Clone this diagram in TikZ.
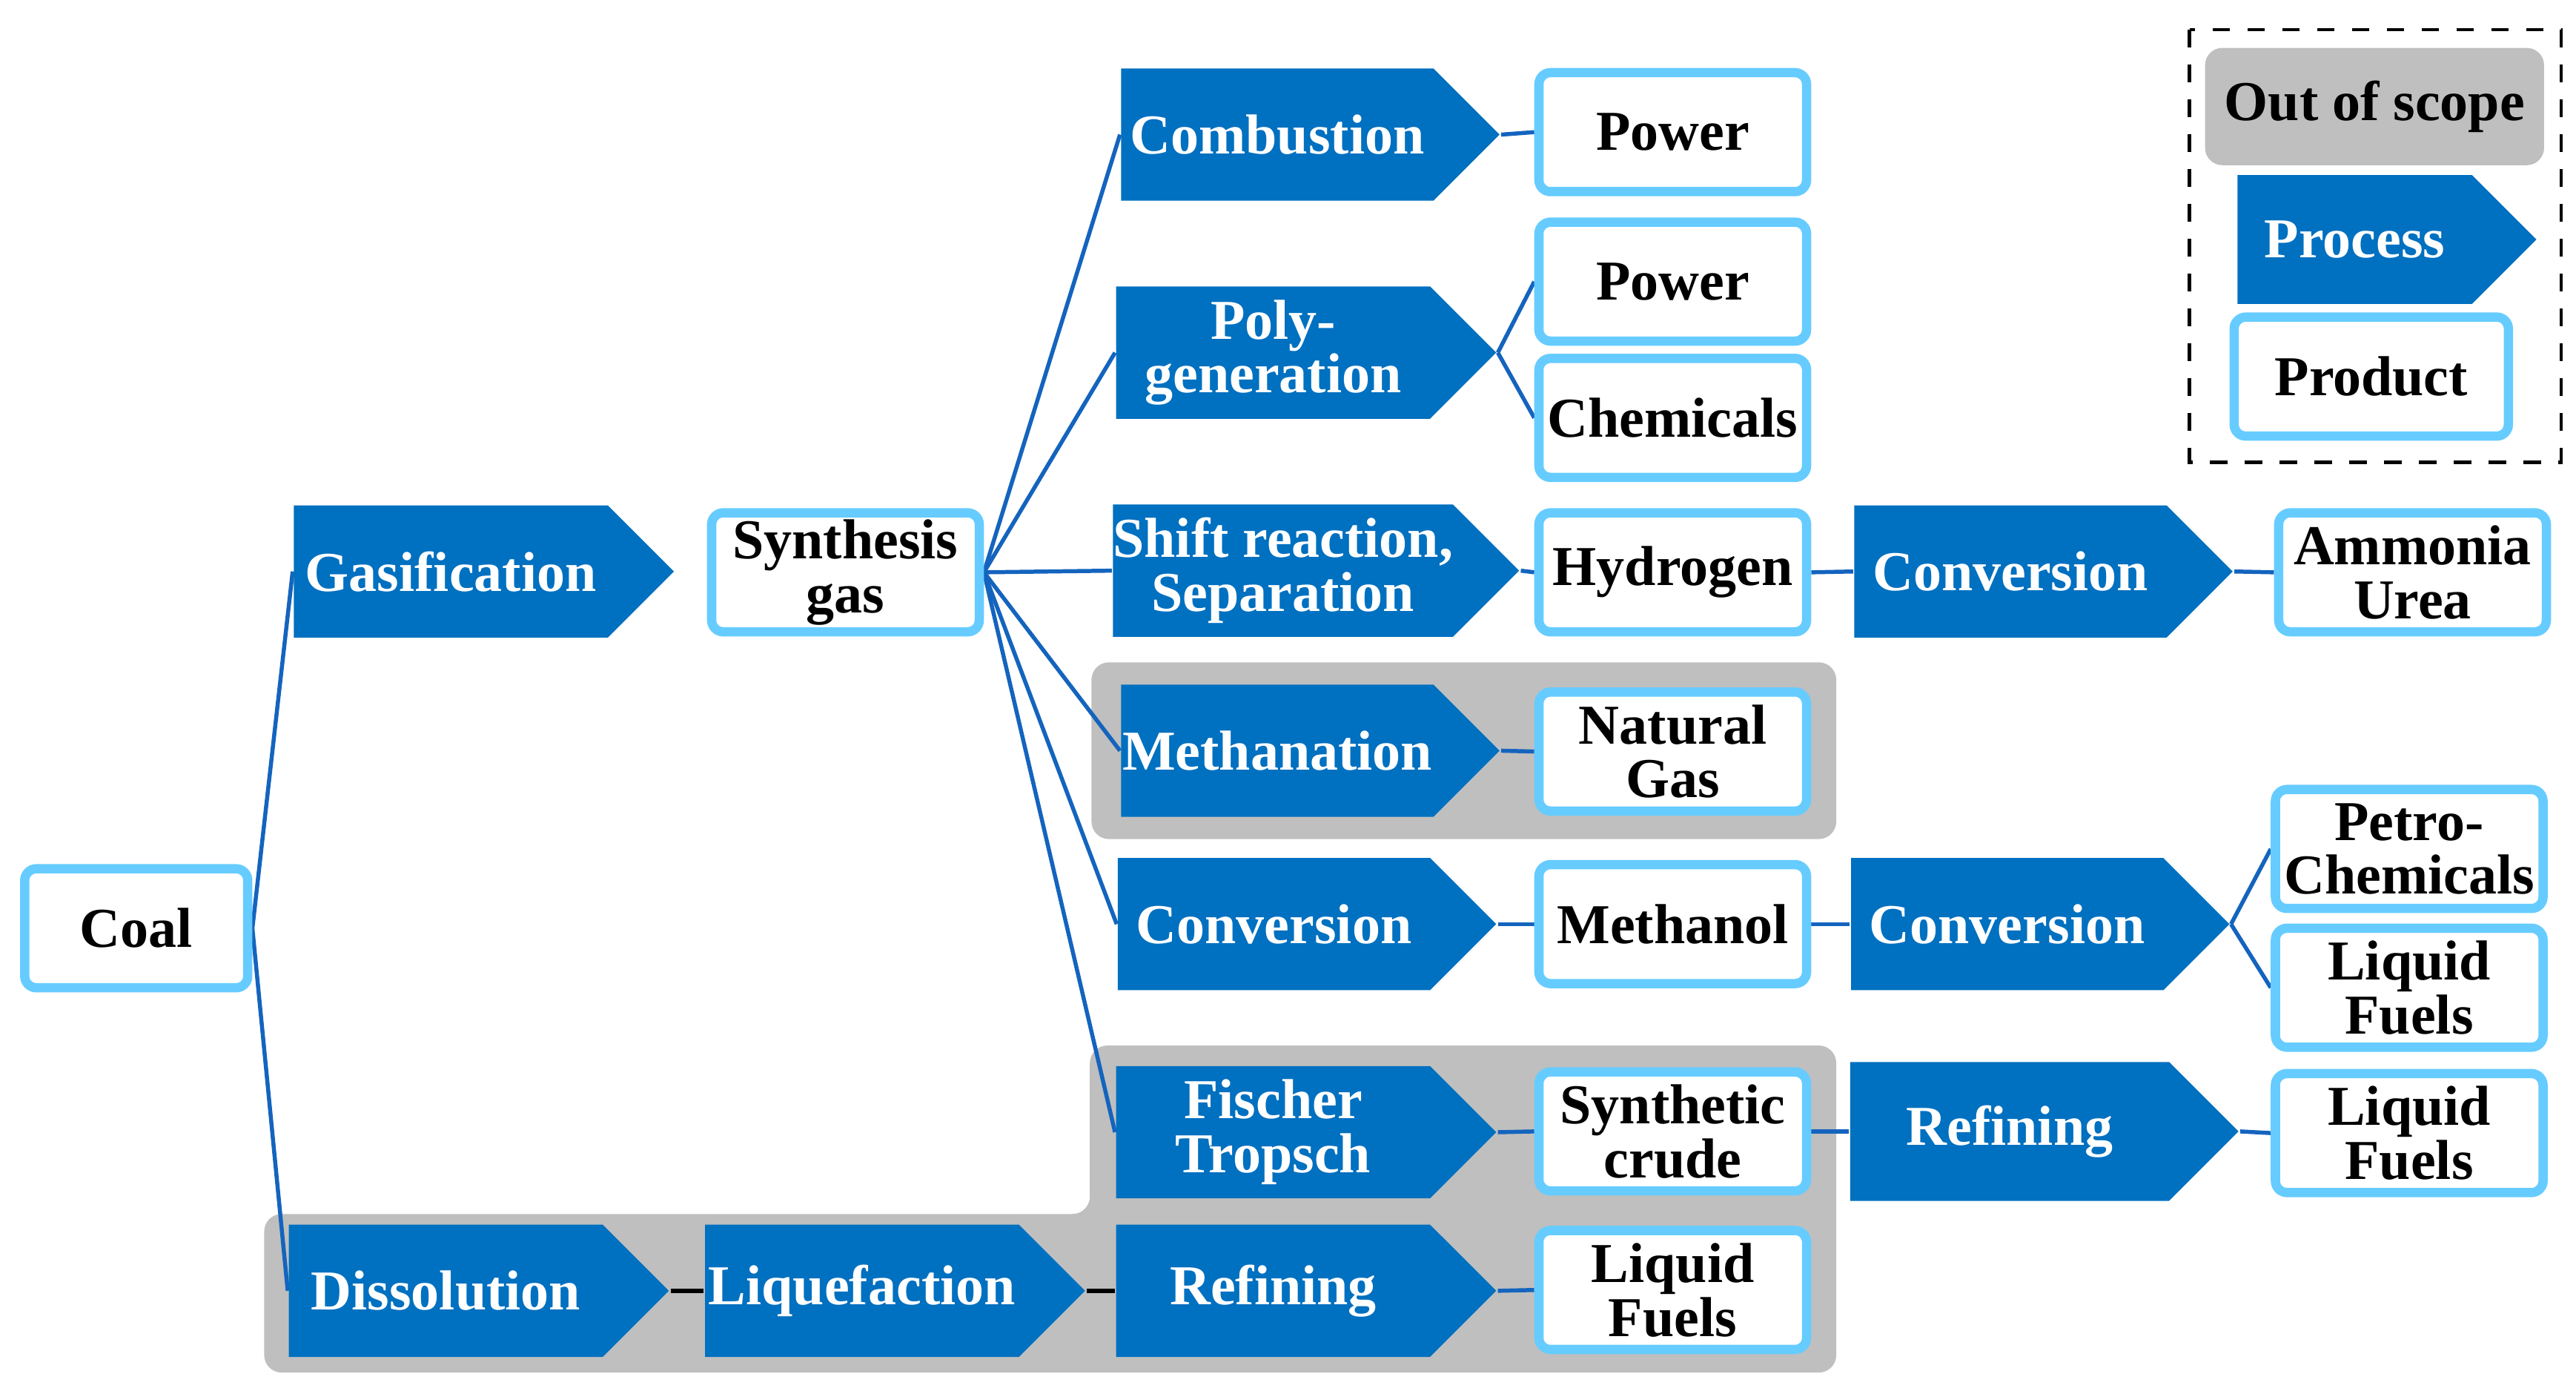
\documentclass[tikz,border=0pt]{standalone}
\usepackage{fontspec}
\setmainfont{Liberation Serif}
\usetikzlibrary{shapes.symbols}
\definecolor{procblue}{RGB}{0,112,192}
\definecolor{prodblue}{RGB}{102,204,255}
\definecolor{scopegray}{RGB}{191,191,191}
\definecolor{linkblue}{RGB}{20,100,190}
\pgfdeclarelayer{scopelayer}
\pgfdeclarelayer{linklayer}
\pgfsetlayers{scopelayer,linklayer,main}
\begin{document}
\begin{tikzpicture}[x=0.01cm, y=-0.01cm,
  txt/.style={font=\fontsize{9.7}{9.3}\selectfont\bfseries, align=center},
  process/.style={signal, signal to=east, signal pointer angle=90, fill=procblue,
    text=white, txt, minimum height=0.8cm, minimum width=2.3cm, inner sep=0pt},
  product/.style={draw=prodblue, line width=1.6pt, fill=white, rounded corners=2pt,
    txt, minimum height=0.72cm, minimum width=1.62cm, inner sep=0pt},
  link/.style={draw=linkblue, line width=0.7pt},
  plain/.style={draw=black, line width=0.7pt}]
\useasboundingbox (0,0) rectangle (1560,842);
% out of scope areas
\begin{pgfonlayer}{scopelayer}
\fill[scopegray, rounded corners=3pt] (661,401) rectangle (1112,508);
\fill[scopegray, rounded corners=3pt] (160,735) -- (660,735) -- (660,633) -- (1112,633)
  -- (1112,831) -- (160,831) -- cycle;
\end{pgfonlayer}
% legend
\draw[dashed, line width=0.6pt] (1326,18) rectangle (1551,280);
\node[fill=scopegray, rounded corners=3pt, minimum width=1.98cm, minimum height=0.71cm, txt]
  (lscope) at (1438,64.5) {Out of scope};
\node[process, minimum width=1.81cm, minimum height=0.78cm] (lproc) at (1426,145) {Process};
\node[product, minimum width=1.66cm] (lprod) at (1436,228) {Product};
% processes
\node[process] (gas) at (273,346) {Gasification};
\node[process, minimum width=2.29cm] (comb) at (773.5,81.5) {Combustion};
\node[process] (poly) at (771,213.5) {Poly-\\generation};
\node[process, minimum width=2.42cm] (shift) at (777,345.5) {Shift reaction,\\Separation};
\node[process, minimum width=2.29cm] (meth) at (773.5,454.5) {Methanation};
\node[process, minimum width=2.29cm] (conv1) at (771.5,559.5) {Conversion};
\node[process] (ft) at (771,685.5) {Fischer\\Tropsch};
\node[process] (diss) at (270,781.5) {Dissolution};
\node[process] (liq) at (522,781.5) {Liquefaction};
\node[process] (ref1) at (771,781.5) {Refining};
\node[process, minimum width=2.29cm] (conv2) at (1217.5,346) {Conversion};
\node[process, minimum width=2.29cm] (conv3) at (1215.5,559.5) {Conversion};
\node[process, minimum width=2.35cm, minimum height=0.84cm] (ref2) at (1217,685) {Refining};
% products
\node[product, minimum width=1.35cm] (coal) at (82.5,562) {Coal};
\node[product] (syn) at (512,346.5) {Synthesis\\gas};
\node[product] (pow1) at (1013,80) {Power};
\node[product] (pow2) at (1013,170.5) {Power};
\node[product] (chem) at (1013,253) {Chemicals};
\node[product] (hyd) at (1013,346.5) {Hydrogen};
\node[product] (ng) at (1013,455) {Natural\\Gas};
\node[product] (meoh) at (1013,559.5) {Methanol};
\node[product] (sc) at (1013,685) {Synthetic\\crude};
\node[product] (lf1) at (1013,781) {Liquid\\Fuels};
\node[product] (amm) at (1461,346.5) {Ammonia\\Urea};
\node[product] (petro) at (1459,514) {Petro-\\Chemicals};
\node[product] (lf2) at (1459,598) {Liquid\\Fuels};
\node[product] (lf3) at (1459,686) {Liquid\\Fuels};
% connectors
\begin{pgfonlayer}{linklayer}
\draw[link] (coal.east) -- (gas.west);
\draw[link] (coal.east) -- (diss.west);
\foreach \t in {comb,poly,shift,meth,conv1,ft}
  \draw[link] (syn.east) -- (\t.west);
\draw[link] (comb.east) -- (pow1.west);
\draw[link] (poly.east) -- (pow2.west);
\draw[link] (poly.east) -- (chem.west);
\draw[link] (shift.east) -- (hyd.west);
\draw[link] (meth.east) -- (ng.west);
\draw[link] (conv1.east) -- (meoh.west);
\draw[link] (ft.east) -- (sc.west);
\draw[link] (ref1.east) -- (lf1.west);
\draw[link] (hyd.east) -- (conv2.west);
\draw[link] (conv2.east) -- (amm.west);
\draw[link] (meoh.east) -- (conv3.west);
\draw[link] (conv3.east) -- (petro.west);
\draw[link] (conv3.east) -- (lf2.west);
\draw[link] (sc.east) -- (ref2.west);
\draw[link] (ref2.east) -- (lf3.west);
\draw[plain] (diss.east) -- (liq.west);
\draw[plain] (liq.east) -- (ref1.west);
\end{pgfonlayer}
\end{tikzpicture}
\end{document}
